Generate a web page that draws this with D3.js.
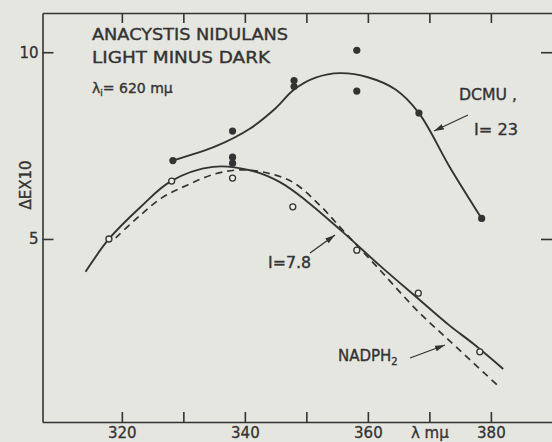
<!DOCTYPE html>
<html lang="en">
  <head>
    <meta charset="UTF-8" />
    <title>Anacystis nidulans light minus dark</title>
    <style>
      body { margin: 0; background: #e6e6e0; }
      svg { display: block; }
      .axis path, .axis line { stroke: #333331; stroke-width: 1.6px; }
      .axis text { font-family: "DejaVu Sans", sans-serif; font-size: 15px; fill: #333; stroke: #333; stroke-width: 0.3px; }
      .lbl { font-family: "DejaVu Sans", sans-serif; fill: #333; stroke: #333; stroke-width: 0.35px; }
    </style>
  </head>
  <body>
    <div class="chart"></div>
    <script src="https://cdn.jsdelivr.net/npm/d3@7"></script>
    <script>
    // wavelength ticks (m\u03bc) and delta E ticks
    var xTicks = [320, 330, 340, 350, 360, 370, 380];
    var xLabels = {320: "320", 340: "340", 360: "360", 370: "\u03bb m\u03bc", 380: "380"};
    var yTicks = [5, 10];

    // DCMU, I=23 : filled points
    var dcmuPoints = [[328.3, 7.1], [338, 7.89], [338, 7.19], [338, 7.03], [348, 9.24],
                      [348, 9.08], [358.2, 10.05], [358.2, 8.96], [368.3, 8.37], [378.5, 5.55]];
    // hand drawn curve through DCMU points
    var dcmuCurve = [[328.3, 7.1], [335.4, 7.49], [340.8, 7.95], [345, 8.5], [348, 9.0],
                     [351.5, 9.32], [355.5, 9.44], [360, 9.33], [364.5, 9.0], [368.3, 8.37],
                     [373.3, 6.93], [378.5, 5.55]];
    // I=7.8 : open points
    var openPoints = [[317.9, 5.0], [328.1, 6.55], [338, 6.63], [347.8, 5.86],
                      [358.2, 4.7], [368.2, 3.55], [378.2, 1.98]];
    var solidCurve = [[314.1, 4.12], [317.9, 5.0], [323, 5.85], [328, 6.55], [334.8, 6.93],
                      [340.8, 6.84], [345.7, 6.52], [350, 6.02], [355.9, 5.19], [362, 4.28],
                      [368.2, 3.4], [373.3, 2.68], [377.1, 2.2], [382, 1.52]];
    // NADPH2 : dashed
    var dashedCurve = [[319, 5.03], [322.9, 5.62], [326.5, 6.1], [330.6, 6.44], [335.1, 6.74],
                       [339.2, 6.85], [343.3, 6.78], [347.8, 6.52], [352.2, 5.9], [355.9, 5.24],
                       [361.9, 4.18], [368.1, 3.07], [373.3, 2.27], [381.5, 1.02]];

    var w = 552, h = 442;
    var svg = d3.select(".chart").append("svg").attr("width", w).attr("height", h);

    var x = d3.scaleLinear().domain([307.1, 390.1]).range([42.5, 553]);
    var y = d3.scaleLinear().domain([0.1, 11.05]).range([422, 13]);

    var ink = "#333331";

    // frame + ticks, all pointing inwards
    svg.append("g").attr("class", "axis").attr("transform", "translate(0," + y(0.1) + ")")
      .call(d3.axisBottom(x).tickValues(xTicks).tickSizeInner(-10).tickSizeOuter(0)
        .tickFormat(function(d) { return xLabels[d] || ""; }))
      .selectAll("text").attr("y", 16).attr("dy", 0);
    svg.append("g").attr("class", "axis").attr("transform", "translate(0," + y(11.05) + ")")
      .call(d3.axisTop(x).tickValues(xTicks).tickSizeInner(-10).tickSizeOuter(0).tickFormat(""));
    svg.append("g").attr("class", "axis").attr("transform", "translate(" + x(307.1) + ",0)")
      .call(d3.axisLeft(y).tickValues(yTicks).tickSizeInner(-11).tickSizeOuter(0).tickPadding(5))
      .selectAll("text").attr("x", -4);
    svg.append("g").attr("class", "axis").attr("transform", "translate(" + x(390.1) + ",0)")
      .call(d3.axisRight(y).tickValues(yTicks).tickSizeInner(-12).tickSizeOuter(0).tickFormat(""));

    var line = d3.line()
      .x(function(d) { return x(d[0]); })
      .y(function(d) { return y(d[1]); })
      .curve(d3.curveCatmullRom.alpha(0.5));

    svg.append("path").datum(dcmuCurve).attr("d", line)
      .attr("fill", "none").attr("stroke", ink).attr("stroke-width", 1.9);
    svg.append("path").datum(solidCurve).attr("d", line)
      .attr("fill", "none").attr("stroke", ink).attr("stroke-width", 1.9);
    svg.append("path").datum(dashedCurve).attr("d", line)
      .attr("fill", "none").attr("stroke", ink).attr("stroke-width", 1.7)
      .attr("stroke-dasharray", "7,5");

    svg.selectAll("circle.filled").data(dcmuPoints).enter().append("circle")
      .attr("class", "filled")
      .attr("cx", function(d) { return x(d[0]); })
      .attr("cy", function(d) { return y(d[1]); })
      .attr("r", 3.6).attr("fill", ink);

    svg.selectAll("circle.open").data(openPoints).enter().append("circle")
      .attr("class", "open")
      .attr("cx", function(d) { return x(d[0]); })
      .attr("cy", function(d) { return y(d[1]); })
      .attr("r", 3).attr("fill", "#ecece6").attr("stroke", ink).attr("stroke-width", 1.3);

    // arrows
    svg.append("defs").append("marker")
      .attr("id", "head").attr("viewBox", "0 0 10 6").attr("refX", 10).attr("refY", 3)
      .attr("markerWidth", 10).attr("markerHeight", 6).attr("markerUnits", "userSpaceOnUse")
      .attr("orient", "auto")
      .append("path").attr("d", "M0,0L10,3L0,6Z").attr("fill", ink);
    var arrows = [[468, 115, 434, 131], [310, 253, 335, 235], [410, 358, 445, 345]];
    svg.selectAll("line.arrow").data(arrows).enter().append("line")
      .attr("class", "arrow")
      .attr("x1", function(d) { return d[0]; }).attr("y1", function(d) { return d[1]; })
      .attr("x2", function(d) { return d[2]; }).attr("y2", function(d) { return d[3]; })
      .attr("stroke", ink).attr("stroke-width", 1.3).attr("marker-end", "url(#head)");

    // labels
    function label(t, lx, ly, size, len) {
      var el = svg.append("text").attr("class", "lbl").attr("x", lx).attr("y", ly)
        .attr("font-size", size).text(t);
      if (len) el.attr("textLength", len).attr("lengthAdjust", "spacingAndGlyphs");
      return el;
    }
    label("ANACYSTIS  NIDULANS", 92, 40, 15, 196);
    label("LIGHT  MINUS  DARK", 92, 63, 15, 178);
    var lam = svg.append("text").attr("class", "lbl").attr("x", 92).attr("y", 93).attr("font-size", 14);
    lam.append("tspan").text("\u03bb");
    lam.append("tspan").attr("font-size", 9).attr("dy", 3).text("i");
    lam.append("tspan").attr("dy", -3).text("= 620 m\u03bc");
    label("DCMU ,", 459, 100, 15, 58);
    label("I= 23", 474, 135, 15, 44);
    label("I=7.8", 268, 268, 15, 43);
    var nad = svg.append("text").attr("class", "lbl").attr("x", 338).attr("y", 361).attr("font-size", 15);
    nad.append("tspan").text("NADPH");
    nad.append("tspan").attr("font-size", 10).attr("dy", 4).text("2");

    svg.append("text").attr("class", "lbl").attr("font-size", 15)
      .attr("transform", "translate(31,185) rotate(-90)")
      .attr("text-anchor", "middle").text("\u0394EX10");
    </script>
  </body>
</html>
